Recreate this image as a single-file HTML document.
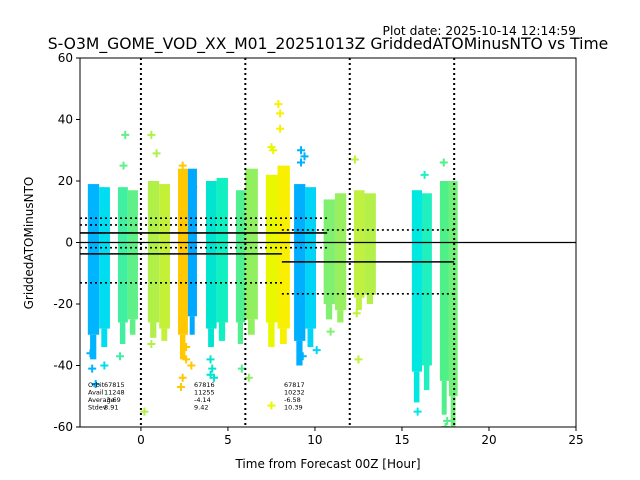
<!DOCTYPE html>
<html><head><meta charset="utf-8"><style>
html,body{margin:0;padding:0;background:#fff;}
svg{display:block;font-family:"DejaVu Sans","Liberation Sans",sans-serif;}
</style></head><body>
<svg id="chart" width="640" height="480" viewBox="0 0 640 480">
<text x="576" y="35" text-anchor="end" font-size="12.3">Plot date: 2025-10-14 12:14:59</text>
<text x="328" y="49" text-anchor="middle" font-size="15.6">S-O3M_GOME_VOD_XX_M01_20251013Z GriddedATOMinusNTO vs Time</text>
<g id="plot"></g>
<text x="328" y="468" text-anchor="middle" font-size="12">Time from Forecast 00Z [Hour]</text>
<text transform="translate(33,243) rotate(-90)" text-anchor="middle" font-size="12">GriddedATOMinusNTO</text>
</svg>
<script>
// data
const stripStart = [-3.05, -2.4, -1.32, -0.75, 0.4, 1.05, 2.13, 2.7, 3.74, 4.35, 5.46, 6.0, 7.18, 7.85, 8.8, 9.45, 10.5, 11.15, 12.24, 12.85, 15.57, 16.15, 17.18, 17.7];
const stripEnd   = [-2.4, -1.78, -0.75, -0.17, 1.05, 1.67, 2.7, 3.22, 4.35, 5.0, 6.0, 6.72, 7.85, 8.56, 9.45, 10.06, 11.15, 11.8, 12.85, 13.5, 16.15, 16.72, 17.7, 18.2];
const stripTop   = [19, 18, 18, 17, 20, 19, 24, 24, 20, 21, 17, 24, 22, 25, 19, 18, 14, 16, 17, 16, 17, 16, 20, 20];
const stripBot   = [-30, -28, -26, -25, -26, -28, -30, -24, -28, -26, -26, -25, -26, -28, -32, -28, -20, -22, -18, -17, -42, -40, -45, -50];
const tailBot    = [-38, -34, -33, -30, -31, -32, -38, -30, -34, -32, -33, -30, -34, -33, -40, -34, -25, -26, -22, -20, -52, -48, -56, -60];
const stripColor = ['#00b4ff','#00dcf0','#40f0a0','#60f088','#b0f048','#c4f038','#ffc800','#00a8ff','#00e4d0','#10f0c0','#50f090','#90f060','#e8f800','#f8f000','#00b0ff','#00d4f8','#80f070','#98f060','#c0f040','#b4f048','#00e8e0','#20f0c0','#50f088','#70f078'];
const outX = [-2.9,-2.8,-2.1,-1.2,-0.9,-1.0,0.6,0.9,0.2,2.4,2.9,2.6,2.4,2.6,3.0,4.0,4.1,5.8,6.2,7.5,7.6,7.9,8.0,8.0,9.2,9.2,9.4,10.1,12.3,12.5,15.9,16.3,17.4,17.5,17.6,-2.6,0.6,4.0,4.2,2.3,7.5,9.3,10.9,12.4];
const outY = [-36,-41,-40,-37,35,25,-33,29,-55,-44,-40,-38,25,-34,18,-38,-41,-41,-44,-53,30,45,42,37,30,26,28,-35,27,-38,-55,22,26,-60,-58,-46,35,-43,-44,-47,31,-37,-29,-23];
const outColor = ['#00b4ff','#00b4ff','#00dcf0','#40f0a0','#60f088','#60f088','#b0f048','#b0f048','#b0f048','#ffc800','#ffc800','#ffc800','#ffc800','#ffc800','#00a8ff','#00e4d0','#00e4d0','#50f090','#90f060','#e8f800','#e8f800','#f8f000','#f8f000','#f8f000','#00b0ff','#00b0ff','#00b0ff','#00d4f8','#c0f040','#c0f040','#00e8e0','#20f0c0','#50f088','#50f088','#50f088','#00b4ff','#b0f048','#00e4d0','#00e4d0','#ffc800','#e8f800','#00b0ff','#80f070','#c0f040'];
const meanStart = [-3.5, -3.5, 8.1];
const meanEnd   = [10.7, 8.1, 18.0];
const meanValue = [3.1, -3.7, -6.3];
const stdValue  = [4.8, 9.42, 10.39];
const fcHours = [0, 6, 12, 18];
const xTicks = [0, 5, 10, 15, 20, 25];
const yTicks = [60, 40, 20, 0, -20, -40, -60];

const X0=80, X1=576, Y0=58, Y1=427, XMIN=-3.5, XMAX=25, YMIN=-60, YMAX=60;
const xs = v => X0 + (v - XMIN) / (XMAX - XMIN) * (X1 - X0);
const ys = v => Y1 - (v - YMIN) / (YMAX - YMIN) * (Y1 - Y0);
const NS='http://www.w3.org/2000/svg';
const plot=document.getElementById('plot');
function mk(tag, attrs, parent){const e=document.createElementNS(NS,tag);for(const k in attrs)e.setAttribute(k,attrs[k]);(parent||plot).appendChild(e);return e;}

const clip=mk('clipPath',{id:'pc'});mk('rect',{x:X0,y:Y0,width:X1-X0,height:Y1-Y0},clip);
const g=mk('g',{'clip-path':'url(#pc)'});

for(let i=0;i<stripStart.length;i++){
  const a=xs(stripStart[i]), b=xs(stripEnd[i]), w=b-a;
  const r=mk('rect',{x:a,y:ys(stripTop[i]),width:w,height:ys(stripBot[i])-ys(stripTop[i]),fill:stripColor[i]},g);
  
  
  const t=mk('rect',{x:a+w*0.2,y:ys(stripBot[i]),width:w*0.55,height:ys(tailBot[i])-ys(stripBot[i]),fill:stripColor[i]},g);
  
  
}
for(let i=0;i<outX.length;i++){
  const cx=xs(outX[i]), cy=ys(outY[i]);
  const p=mk('path',{d:`M${cx-4},${cy}H${cx+4}M${cx},${cy-4}V${cy+4}`,stroke:outColor[i],'stroke-width':2},g);
  
  
}
const z=mk('line',{x1:X0,x2:X1,y1:ys(0),y2:ys(0),stroke:'#000','stroke-width':1.2},g);


for(let i=0;i<meanValue.length;i++){
  const m=mk('line',{x1:xs(meanStart[i]),x2:xs(meanEnd[i]),y1:ys(meanValue[i]),y2:ys(meanValue[i]),stroke:'#000','stroke-width':1.6},g);
  
  
  for(const s of [1,-1]){
    const d=mk('line',{x1:xs(meanStart[i]),x2:xs(meanEnd[i]),y1:ys(meanValue[i]+s*stdValue[i]),y2:ys(meanValue[i]+s*stdValue[i]),stroke:'#000','stroke-width':1.6,'stroke-dasharray':'2,3'},g);
    
    
  }
}
for(const h of fcHours){
  const l=mk('line',{x1:xs(h),x2:xs(h),y1:Y0,y2:Y1,stroke:'#000','stroke-width':2,'stroke-dasharray':'2,3'},g);
  
  
}
const statsX=[104,194,284];
const statsVals=[["67815","11248","-3.69","8.91"],["67816","11255","-4.14","9.42"],["67817","10232","-6.58","10.39"]];
const lab=["Orbit","Avail","Average","Stdev"];
for(let k=0;k<4;k++){
  const t=mk('text',{x:88,y:387+k*7.5,'font-size':6.5});t.textContent=lab[k];
  
}
for(let c=0;c<3;c++)for(let k=0;k<4;k++){
  const t=mk('text',{x:statsX[c],y:387+k*7.5,'font-size':6.5});t.textContent=statsVals[c][k];
  
}
const f=mk('rect',{x:X0,y:Y0,width:X1-X0,height:Y1-Y0,fill:'none',stroke:'#000','stroke-width':1});


for(const t of xTicks){
  mk('line',{x1:xs(t),x2:xs(t),y1:Y1,y2:Y1+4,stroke:'#000'});
  const tx=mk('text',{x:xs(t),y:Y1+17,'font-size':12,'text-anchor':'middle'});tx.textContent=t;
  
  
}
for(const t of yTicks){
  mk('line',{x1:X0-4,x2:X0,y1:ys(t),y2:ys(t),stroke:'#000'});
  const tx=mk('text',{x:X0-7,y:ys(t)+4,'font-size':12,'text-anchor':'end'});tx.textContent=t;
  
  
}
</script>
</body></html>
